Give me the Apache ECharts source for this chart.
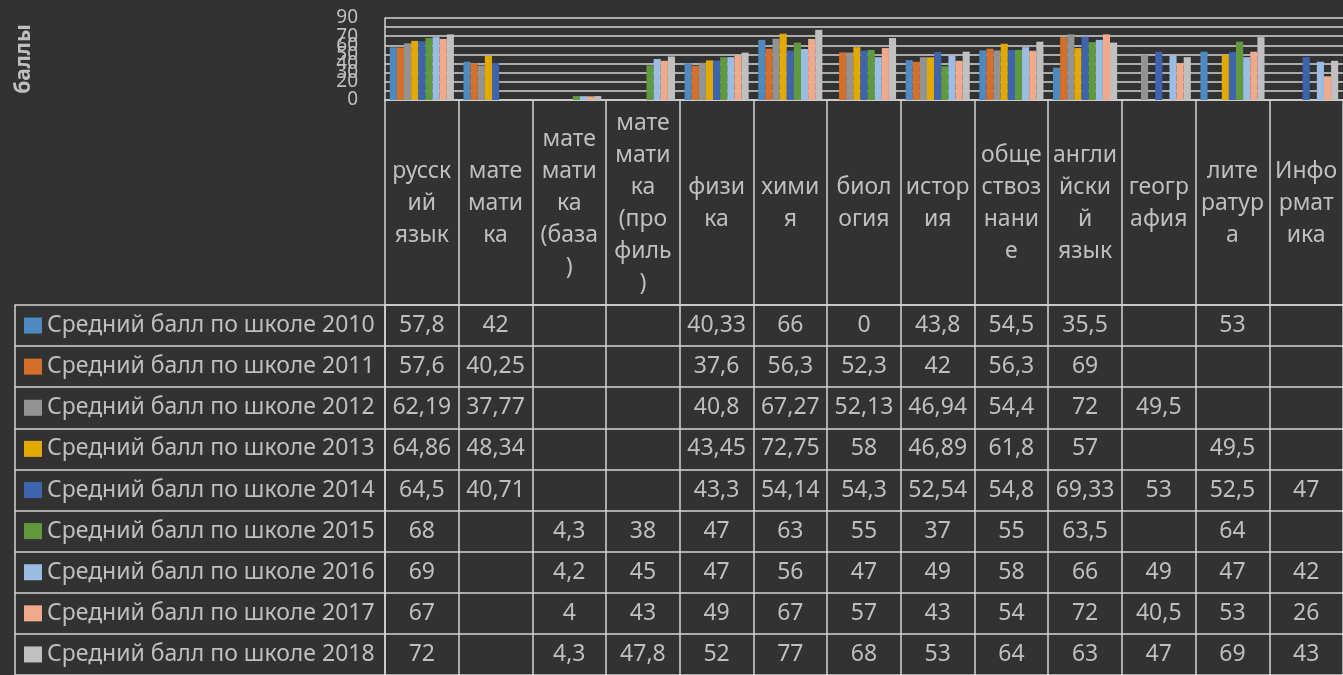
<!DOCTYPE html>
<html>
<head>
<meta charset="utf-8">
<script src="https://cdn.jsdelivr.net/npm/echarts@6.0.0/dist/echarts.min.js"></script>
<style>
  html, body { margin: 0; padding: 0; background: #323232; }
  #chart { width: 1343px; height: 675px; }
</style>
</head>
<body>
<div id="chart"></div>
<script>
const subjects = [
  "русский язык", "математика", "математика (база)", "математика (профиль)",
  "физика", "химия", "биология", "история", "обществознание",
  "английский язык", "география", "литература", "Информатика",
];
// how Excel wrapped the names inside the narrow table header cells
const headerLabels = [
  "русск\nий\nязык", "мате\nмати\nка", "мате\nмати\nка\n(база\n)", "мате\nмати\nка\n(про\nфиль\n)",
  "физи\nка", "хими\nя", "биол\nогия", "истор\nия", "обще\nствоз\nнани\nе",
  "англи\nйски\nй\nязык", "геогр\nафия", "лите\nратур\nа", "Инфо\nрмат\nика",
];
const seriesNames = [
  "Средний балл по школе 2010", "Средний балл по школе 2011", "Средний балл по школе 2012",
  "Средний балл по школе 2013", "Средний балл по школе 2014", "Средний балл по школе 2015",
  "Средний балл по школе 2016", "Средний балл по школе 2017", "Средний балл по школе 2018",
];
const scores2010 = [57.8, 42, null, null, 40.33, 66, 0, 43.8, 54.5, 35.5, null, 53, null];
const scores2011 = [57.6, 40.25, null, null, 37.6, 56.3, 52.3, 42, 56.3, 69, null, null, null];
const scores2012 = [62.19, 37.77, null, null, 40.8, 67.27, 52.13, 46.94, 54.4, 72, 49.5, null, null];
const scores2013 = [64.86, 48.34, null, null, 43.45, 72.75, 58, 46.89, 61.8, 57, null, 49.5, null];
const scores2014 = [64.5, 40.71, null, null, 43.3, 54.14, 54.3, 52.54, 54.8, 69.33, 53, 52.5, 47];
const scores2015 = [68, null, 4.3, 38, 47, 63, 55, 37, 55, 63.5, null, 64, null];
const scores2016 = [69, null, 4.2, 45, 47, 56, 47, 49, 58, 66, 49, 47, 42];
const scores2017 = [67, null, 4, 43, 49, 67, 57, 43, 54, 72, 40.5, 53, 26];
const scores2018 = [72, null, 4.3, 47.8, 52, 77, 68, 53, 64, 63, 47, 69, 43];

const allScores = [scores2010, scores2011, scores2012, scores2013, scores2014,
  scores2015, scores2016, scores2017, scores2018];
const colors = ["#4e8ac0", "#d4702c", "#939393", "#e2a900", "#3d64ad",
  "#619a3e", "#9bbde3", "#f0a98b", "#c0c0c0"];

const TEXT = "#bfbfbf";
const LINE = "#d4d4d4";
const FONT = "Noto Sans";

const fmt = (v) => String(v).replace(".", ",");

const rich = { t: { color: TEXT, fontSize: 23, fontFamily: FONT, padding: [0, 0, 0, 5] } };
colors.forEach((c, i) => {
  rich["b" + i] = { backgroundColor: c, width: 18, height: 16 };
});

const cellData = [];
allScores.forEach((row, yi) => {
  row.forEach((v, xi) => {
    if (v !== null) cellData.push([xi, yi, v]);
  });
});

const chart = echarts.init(document.getElementById("chart"), null, { renderer: "canvas" });

chart.setOption({
  backgroundColor: "#323232",
  animation: false,
  grid: [
    { left: 385, right: 0, top: 18, bottom: 575 },
    { left: 385, right: 0, top: 305, bottom: 0 },
  ],
  xAxis: [
    {
      type: "category",
      gridIndex: 0,
      data: subjects,
      axisLine: { show: true, lineStyle: { color: LINE, width: 1.5 } },
      axisTick: { show: true, interval: 0, length: 205, lineStyle: { color: LINE, width: 1.5 } },
      axisLabel: {
        interval: 0,
        margin: 103,
        verticalAlign: "middle",
        align: "center",
        color: TEXT,
        fontSize: 23,
        lineHeight: 32,
        fontFamily: FONT,
        formatter: (value, index) => headerLabels[index],
      },
    },
    {
      type: "category",
      gridIndex: 1,
      position: "top",
      data: subjects,
      axisLine: { show: true, lineStyle: { color: LINE, width: 1.5 } },
      axisTick: { show: false, interval: 0 },
      axisLabel: { show: false, interval: 0 },
      splitLine: { show: true, interval: 0, lineStyle: { color: LINE, width: 1.5 } },
    },
  ],
  yAxis: [
    {
      type: "value",
      gridIndex: 0,
      min: 0,
      max: 90,
      interval: 10,
      name: "баллы",
      nameLocation: "middle",
      nameRotate: 90,
      nameGap: 350,
      nameTextStyle: { color: TEXT, fontSize: 21, fontWeight: "bold", fontFamily: FONT },
      axisLine: { show: true, lineStyle: { color: LINE, width: 1.5 } },
      axisTick: { show: false },
      axisLabel: {
        color: TEXT,
        fontSize: 19,
        fontFamily: FONT,
        margin: 27,
        showMinLabel: true,
        showMaxLabel: true,
        hideOverlap: false,
      },
      splitLine: { show: true, lineStyle: { color: LINE, width: 1.5 } },
    },
    {
      type: "category",
      gridIndex: 1,
      inverse: true,
      data: seriesNames,
      axisLine: { show: true, lineStyle: { color: LINE, width: 1.5 } },
      axisTick: { show: true, interval: 0, length: 370, lineStyle: { color: LINE, width: 1.5 } },
      axisLabel: {
        interval: 0,
        align: "left",
        margin: 361,
        rich: rich,
        formatter: (value, index) => "{b" + index + "|}{t|" + value + "}",
      },
      splitLine: { show: true, interval: 0, lineStyle: { color: LINE, width: 1.5 } },
    },
    {
      // left border of the table
      type: "category",
      gridIndex: 1,
      position: "left",
      offset: 370,
      data: seriesNames,
      axisLine: { show: true, lineStyle: { color: LINE, width: 1.5 } },
      axisTick: { show: false },
      axisLabel: { show: false },
    },
  ],
  series: [
    ...allScores.map((row, i) => ({
      name: seriesNames[i],
      type: "bar",
      xAxisIndex: 0,
      yAxisIndex: 0,
      barGap: "0%",
      barCategoryGap: "13%",
      itemStyle: { color: colors[i] },
      data: row,
    })),
    {
      type: "custom",
      xAxisIndex: 1,
      yAxisIndex: 1,
      data: cellData,
      renderItem: (params, api) => {
        const p = api.coord([api.value(0), api.value(1)]);
        return {
          type: "text",
          x: p[0],
          y: p[1],
          style: {
            text: fmt(api.value(2)),
            fill: TEXT,
            fontSize: 23,
            fontFamily: FONT,
            align: "center",
            verticalAlign: "middle",
          },
        };
      },
    },
  ],
});
</script>
</body>
</html>
